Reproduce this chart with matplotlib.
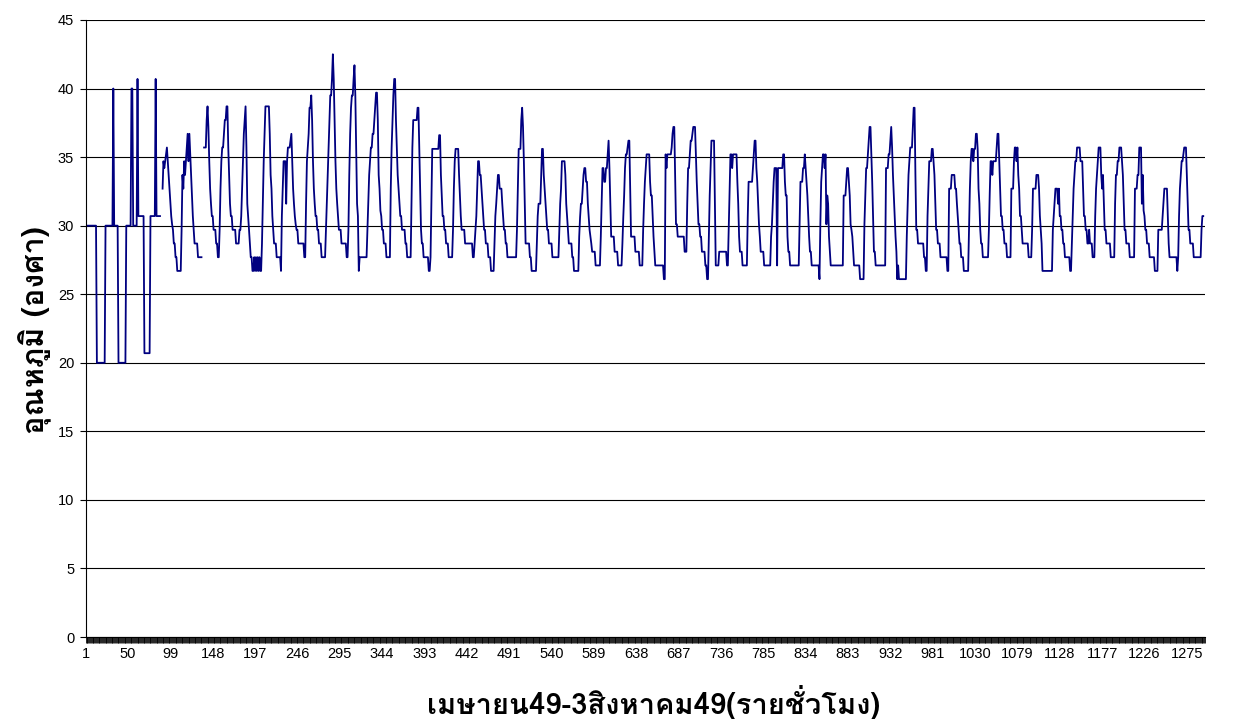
import numpy as np
import matplotlib.pyplot as plt
from matplotlib import font_manager
from matplotlib.ft2font import FT2Font
from matplotlib.ticker import FixedLocator

# hourly temperature log, one row per 24 readings (None = no reading)
temps = [
    30, 30, 30, 30, 30, 30, 30, 30, 30, 30, 30, 30, 30, 20, 20, 20, 20, 20, 20, 20, 20, 20, 20, 30,
    30, 30, 30, 30, 30, 30, 30, 30, 40, 30, 30, 30, 30, 30, 20, 20, 20, 20, 20, 20, 20, 20, 20, 30,
    30, 30, 30, 30, 30, 40, 40, 30, 30, 30, 30, 30, 40.7, 30.7, 30.7, 30.7, 30.7, 30.7, 30.7, 30.7, 20.7, 20.7, 20.7, 20.7,
    20.7, 20.7, 20.7, 30.7, 30.7, 30.7, 30.7, 30.7, 30.7, 40.7, 30.7, 30.7, 30.7, 30.7, 30.7, None, None, 32.7, 34.7, 34.2, 34.7, 35.2, 35.7, 34.7,
    33.7, 32.7, 31.6, 30.7, 30.1, 29.7, 28.7, 28.7, 27.7, 27.7, 26.7, 26.7, 26.7, 26.7, 26.7, 29.7, 33.7, 32.7, 34.7, 33.7, 34.7, 35.7, 36.7, 34.7,
    36.7, 35.2, 33.7, 32.2, 30.7, 29.7, 28.7, 28.7, 28.7, 28.7, 27.7, 27.7, 27.7, 27.7, 27.7, None, None, 35.7, 35.7, 35.7, 37.7, 38.7, 37.2, 34.7,
    32.7, 31.6, 30.7, 30.7, 29.7, 29.7, 29.7, 28.7, 28.7, 27.7, 27.7, 29.7, 32.7, 34.7, 35.7, 35.7, 36.7, 37.7, 37.7, 38.7, 38.7, 35.7, 33.7, 31.6,
    30.7, 30.7, 29.7, 29.7, 29.7, 29.7, 28.7, 28.7, 28.7, 28.7, 29.7, 29.7, 30.7, 32.7, 34.7, 36.7, 37.7, 38.7, 35.7, 31.6, 30.7, 29.7, 28.7, 27.7,
    27.7, 26.7, 26.7, 27.7, 26.7, 27.7, 26.7, 27.7, 26.7, 27.7, 26.7, 26.7, 28.7, 31.6, 34.7, 36.7, 38.7, 38.7, 38.7, 38.7, 38.7, 36.7, 33.7, 32.7,
    30.7, 29.7, 28.7, 28.7, 28.7, 27.7, 27.7, 27.7, 27.7, 27.7, 26.7, 30.7, 32.7, 34.7, 34.7, 34.7, 31.6, 34.7, 35.7, 35.7, 35.7, 36.2, 36.7, 34.7,
    32.7, 31.6, 30.7, 30.1, 29.7, 29.7, 28.7, 28.7, 28.7, 28.7, 28.7, 28.7, 28.7, 27.7, 27.7, 31.6, 34.7, 35.7, 36.7, 38.6, 38.6, 39.5, 37.7, 34.7,
    32.7, 31.6, 30.7, 30.7, 29.7, 29.7, 28.7, 28.7, 28.7, 27.7, 27.7, 27.7, 27.7, 27.7, 29.7, 31.6, 33.7, 35.7, 37.7, 39.5, 39.5, 40.7, 42.5, 40.7,
    37.7, 34.7, 32.7, 31.6, 30.7, 29.7, 29.7, 29.7, 28.7, 28.7, 28.7, 28.7, 28.7, 28.7, 27.7, 27.7, 29.7, 33.7, 36.7, 38.6, 39.5, 39.5, 40.7, 41.7,
    39.5, 35.7, 31.6, 30.7, 26.7, 27.7, 27.7, 27.7, 27.7, 27.7, 27.7, 27.7, 27.7, 27.7, 29.7, 31.6, 33.7, 34.7, 35.7, 35.7, 36.7, 36.7, 37.7, 38.6,
    39.7, 39.7, 37.7, 33.7, 32.7, 31.1, 30.7, 29.7, 29.7, 28.7, 28.7, 28.7, 27.7, 27.7, 27.7, 27.7, 27.7, 32.7, 35.7, 37.7, 39.5, 40.7, 40.7, 37.7,
    35.7, 33.7, 32.7, 31.6, 30.7, 30.7, 29.7, 29.7, 29.7, 29.7, 28.7, 28.7, 27.7, 27.7, 27.7, 27.7, 27.7, 31.6, 35.7, 37.7, 37.7, 37.7, 37.7, 37.7,
    38.6, 38.6, 35.7, 32.7, 29.7, 28.7, 28.7, 27.7, 27.7, 27.7, 27.7, 27.7, 27.7, 26.7, 26.7, 27.7, 31.6, 35.6, 35.6, 35.6, 35.6, 35.6, 35.6, 35.6,
    35.6, 36.6, 36.6, 33.7, 32.2, 30.7, 30.7, 29.7, 29.7, 28.7, 28.7, 28.7, 27.7, 27.7, 27.7, 27.7, 27.7, 29.7, 32.7, 34.7, 35.6, 35.6, 35.6, 35.6,
    33.7, 32.2, 30.7, 29.7, 29.7, 29.7, 29.7, 28.7, 28.7, 28.7, 28.7, 28.7, 28.7, 28.7, 28.7, 28.7, 27.7, 27.7, 28.7, 29.7, 30.7, 32.7, 34.7, 34.7,
    33.7, 33.7, 32.7, 31.6, 30.7, 29.7, 29.7, 28.7, 28.7, 28.7, 27.7, 27.7, 27.7, 26.7, 26.7, 26.7, 26.7, 28.7, 30.7, 31.6, 32.7, 33.7, 33.7, 32.7,
    32.7, 32.7, 31.6, 30.7, 29.7, 29.7, 28.7, 28.7, 27.7, 27.7, 27.7, 27.7, 27.7, 27.7, 27.7, 27.7, 27.7, 27.7, 27.7, 29.7, 32.7, 35.6, 35.6, 35.6,
    37.7, 38.6, 37.2, 34.7, 31.6, 28.7, 28.7, 28.7, 28.7, 28.7, 27.7, 27.7, 26.7, 26.7, 26.7, 26.7, 26.7, 26.7, 28.7, 30.7, 31.6, 31.6, 31.6, 33.7,
    35.6, 35.6, 33.7, 32.7, 31.6, 30.7, 29.7, 29.7, 28.7, 28.7, 28.7, 28.7, 27.7, 27.7, 27.7, 27.7, 27.7, 27.7, 27.7, 27.7, 29.7, 31.6, 32.7, 34.7,
    34.7, 34.7, 34.7, 33.7, 31.6, 30.7, 29.7, 28.7, 28.7, 28.7, 28.7, 27.7, 27.7, 26.7, 26.7, 26.7, 26.7, 26.7, 26.7, 29.2, 30.6, 31.6, 31.6, 32.7,
    33.7, 34.2, 34.2, 33.2, 33.2, 31.6, 30.6, 29.7, 29.2, 28.7, 28.1, 28.1, 28.1, 28.1, 27.1, 27.1, 27.1, 27.1, 27.1, 27.1, 29.2, 31.6, 34.2, 34.2,
    33.2, 33.2, 34.2, 34.2, 35.2, 36.2, 34.2, 31.6, 29.2, 29.2, 29.2, 29.2, 28.1, 28.1, 28.1, 28.1, 27.1, 27.1, 27.1, 27.1, 27.1, 28.7, 30.6, 32.2,
    34.2, 35.2, 35.2, 35.7, 36.2, 36.2, 32.7, 29.2, 29.2, 29.2, 29.2, 29.2, 28.1, 28.1, 28.1, 28.1, 28.1, 27.1, 27.1, 27.1, 27.1, 29.7, 31.6, 33.2,
    34.2, 35.2, 35.2, 35.2, 35.2, 33.2, 32.2, 32.2, 30.6, 29.2, 28.1, 27.1, 27.1, 27.1, 27.1, 27.1, 27.1, 27.1, 27.1, 27.1, 27.1, 26.1, 26.1, 35.2,
    34.2, 35.2, 35.2, 35.2, 35.2, 35.2, 35.7, 36.7, 37.2, 37.2, 33.7, 30.1, 30.1, 29.2, 29.2, 29.2, 29.2, 29.2, 29.2, 29.2, 29.2, 28.1, 28.1, 28.1,
    31.6, 34.2, 34.2, 35.2, 36.2, 36.2, 36.7, 37.2, 37.2, 37.2, 35.2, 33.2, 31.6, 30.1, 30.1, 29.2, 29.2, 28.1, 28.1, 28.1, 28.1, 27.1, 27.1, 26.1,
    26.1, 29.2, 32.2, 34.2, 36.2, 36.2, 36.2, 36.2, 31.6, 27.1, 27.1, 27.1, 27.1, 28.1, 28.1, 28.1, 28.1, 28.1, 28.1, 28.1, 28.1, 28.1, 27.1, 27.1,
    29.7, 32.2, 35.2, 35.2, 34.2, 35.2, 35.2, 35.2, 35.2, 35.2, 33.2, 31.6, 29.2, 28.1, 28.1, 28.1, 27.1, 27.1, 27.1, 27.1, 27.1, 27.1, 30.6, 33.2,
    33.2, 33.2, 33.2, 33.2, 34.2, 35.2, 36.2, 36.2, 34.2, 33.2, 31.6, 30.1, 29.2, 28.1, 28.1, 28.1, 28.1, 27.1, 27.1, 27.1, 27.1, 27.1, 27.1, 27.1,
    27.1, 29.2, 30.1, 31.6, 33.2, 34.2, 34.2, 34.2, 27.1, 34.2, 34.2, 34.2, 34.2, 34.2, 34.2, 35.2, 35.2, 33.2, 32.2, 32.2, 29.2, 28.1, 28.1, 27.1,
    27.1, 27.1, 27.1, 27.1, 27.1, 27.1, 27.1, 27.1, 27.1, 27.1, 30.1, 33.2, 33.2, 33.2, 34.2, 34.2, 35.2, 34.2, 33.2, 32.2, 30.6, 29.2, 28.1, 28.1,
    27.1, 27.1, 27.1, 27.1, 27.1, 27.1, 27.1, 27.1, 27.1, 26.1, 30.1, 33.2, 34.2, 35.2, 35.2, 34.2, 35.2, 30.1, 32.2, 31.6, 29.2, 28.1, 27.1, 27.1,
    27.1, 27.1, 27.1, 27.1, 27.1, 27.1, 27.1, 27.1, 27.1, 27.1, 27.1, 27.1, 27.1, 32.2, 32.2, 32.2, 33.2, 34.2, 34.2, 33.2, 32.2, 30.1, 29.7, 29.2,
    28.1, 27.1, 27.1, 27.1, 27.1, 27.1, 27.1, 27.1, 26.1, 26.1, 26.1, 26.1, 26.1, 30.1, 32.2, 34.2, 34.2, 35.2, 36.2, 37.2, 37.2, 35.2, 33.2, 30.6,
    28.1, 28.1, 27.1, 27.1, 27.1, 27.1, 27.1, 27.1, 27.1, 27.1, 27.1, 27.1, 27.1, 27.1, 34.2, 34.2, 34.2, 35.2, 35.2, 36.2, 37.2, 35.7, 33.7, 32.2,
    30.7, 29.2, 28.1, 26.1, 27.1, 26.1, 26.1, 26.1, 26.1, 26.1, 26.1, 26.1, 26.1, 26.1, 29.2, 31.6, 33.7, 34.7, 35.7, 35.7, 35.7, 37.2, 38.6, 38.6,
    33.7, 29.7, 29.7, 28.7, 28.7, 28.7, 28.7, 28.7, 28.7, 28.7, 27.7, 27.7, 26.7, 26.7, 30.7, 32.7, 34.7, 34.7, 34.7, 35.6, 35.6, 34.7, 33.7, 31.6,
    29.7, 29.7, 28.7, 28.7, 28.7, 27.7, 27.7, 27.7, 27.7, 27.7, 27.7, 27.7, 27.7, 26.7, 26.7, 32.7, 32.7, 32.7, 33.7, 33.7, 33.7, 33.7, 32.7, 32.7,
    31.6, 30.7, 29.7, 28.7, 28.7, 27.7, 27.7, 27.7, 26.7, 26.7, 26.7, 26.7, 26.7, 26.7, 29.7, 32.7, 34.7, 35.6, 35.6, 34.7, 35.6, 35.6, 36.7, 36.7,
    35.6, 32.7, 31.6, 29.7, 28.7, 28.7, 27.7, 27.7, 27.7, 27.7, 27.7, 27.7, 27.7, 29.7, 32.4, 34.7, 34.7, 33.7, 34.7, 34.7, 34.7, 34.7, 35.7, 36.7,
    36.7, 34.7, 32.7, 30.7, 30.7, 29.7, 29.7, 28.7, 28.7, 28.7, 27.7, 27.7, 27.7, 27.7, 27.7, 32.7, 32.7, 32.7, 34.7, 35.7, 35.7, 34.7, 35.7, 33.7,
    32.7, 30.7, 30.7, 29.7, 28.7, 28.7, 28.7, 28.7, 28.7, 28.7, 28.7, 27.7, 27.7, 27.7, 27.7, 29.7, 32.7, 32.7, 32.7, 32.7, 33.7, 33.7, 33.7, 32.7,
    30.7, 29.7, 28.7, 26.7, 26.7, 26.7, 26.7, 26.7, 26.7, 26.7, 26.7, 26.7, 26.7, 26.7, 26.7, 29.7, 30.7, 31.6, 32.7, 32.7, 32.7, 31.6, 32.7, 30.7,
    30.7, 29.7, 29.7, 28.7, 28.7, 27.7, 27.7, 27.7, 27.7, 27.7, 27.7, 26.7, 26.7, 28.7, 30.7, 32.7, 33.7, 34.7, 34.7, 35.7, 35.7, 35.7, 35.7, 34.7,
    34.7, 34.7, 32.7, 30.7, 30.7, 29.7, 29.7, 28.7, 28.7, 29.7, 28.7, 28.7, 28.7, 27.7, 27.7, 27.7, 30.7, 32.7, 33.7, 34.7, 35.7, 35.7, 35.7, 33.7,
    32.7, 33.7, 31.6, 29.7, 29.7, 28.7, 28.7, 28.7, 28.7, 28.7, 27.7, 27.7, 27.7, 27.7, 27.7, 31.6, 33.7, 33.7, 34.7, 34.7, 35.7, 35.7, 35.7, 34.7,
    33.7, 31.6, 29.7, 29.7, 28.7, 28.7, 28.7, 28.7, 27.7, 27.7, 27.7, 27.7, 27.7, 27.7, 32.7, 32.7, 32.7, 33.7, 33.7, 35.7, 35.7, 35.7, 31.6, 33.7,
    31.1, 30.7, 29.7, 29.7, 28.7, 28.7, 28.7, 27.7, 27.7, 27.7, 27.7, 27.7, 27.7, 26.7, 26.7, 26.7, 26.7, 29.7, 29.7, 29.7, 29.7, 29.7, 30.7, 31.6,
    32.7, 32.7, 32.7, 32.7, 30.7, 28.7, 27.7, 27.7, 27.7, 27.7, 27.7, 27.7, 27.7, 27.7, 27.7, 26.7, 27.7, 30.7, 32.7, 33.7, 34.7, 34.7, 35.2, 35.7,
    35.7, 35.7, 33.7, 31.6, 29.7, 29.7, 28.7, 28.7, 28.7, 28.7, 27.7, 27.7, 27.7, 27.7, 27.7, 27.7, 27.7, 27.7, 27.7, 29.7, 30.7, 30.7, None, None,
]

x_ticks = list(range(1, 1276, 49))
y_ticks = list(range(0, 46, 5))

y_title = 'อุณหภูมิ (องศา)'
x_title = 'เมษายน49-3สิงหาคม49(รายชั่วโมง)'


def thai_family():
    # pick an installed face that actually carries Thai letters
    for f in font_manager.fontManager.ttflist:
        try:
            if 0x0E2D in FT2Font(f.fname).get_charmap():
                return f.name
        except Exception:
            pass
    return 'DejaVu Sans'


plt.rcParams['font.family'] = ['Liberation Sans', 'DejaVu Sans']
title_fonts = [thai_family(), 'Liberation Sans', 'DejaVu Sans']

hours = np.arange(1, len(temps) + 1)
values = np.array(temps, dtype=float)

fig = plt.figure(figsize=(12.36, 7.19), dpi=100)
ax = fig.add_axes([0.0693, 0.114, 0.9056, 0.8582])

ax.plot(hours, values, color='#000080', lw=1.3)

ax.set_xlim(1, len(temps))
ax.set_ylim(0, 45)
ax.set_yticks(y_ticks)
ax.set_xticks(x_ticks)
ax.set_xticklabels([str(t) for t in x_ticks])
ax.xaxis.set_minor_locator(FixedLocator(hours))

ax.tick_params(axis='x', which='both', direction='out', length=4.3, width=0.6,
               labelsize=10.5, pad=3)
ax.tick_params(axis='y', direction='out', length=4.3, width=0.8,
               labelsize=10.5, pad=4)
ax.grid(axis='y', color='black', lw=0.8)
ax.set_axisbelow(True)
for side in ['top', 'right']:
    ax.spines[side].set_visible(False)

fig.text(35 / 1236, 1 - 330 / 719, y_title, rotation=90, ha='center', va='center',
         fontsize=22, fontweight='bold', family=title_fonts)
fig.text(654 / 1236, 1 - 703 / 719, x_title, ha='center', va='center',
         fontsize=21, fontweight='bold', family=title_fonts)

fig.savefig('out.png', dpi=100)
